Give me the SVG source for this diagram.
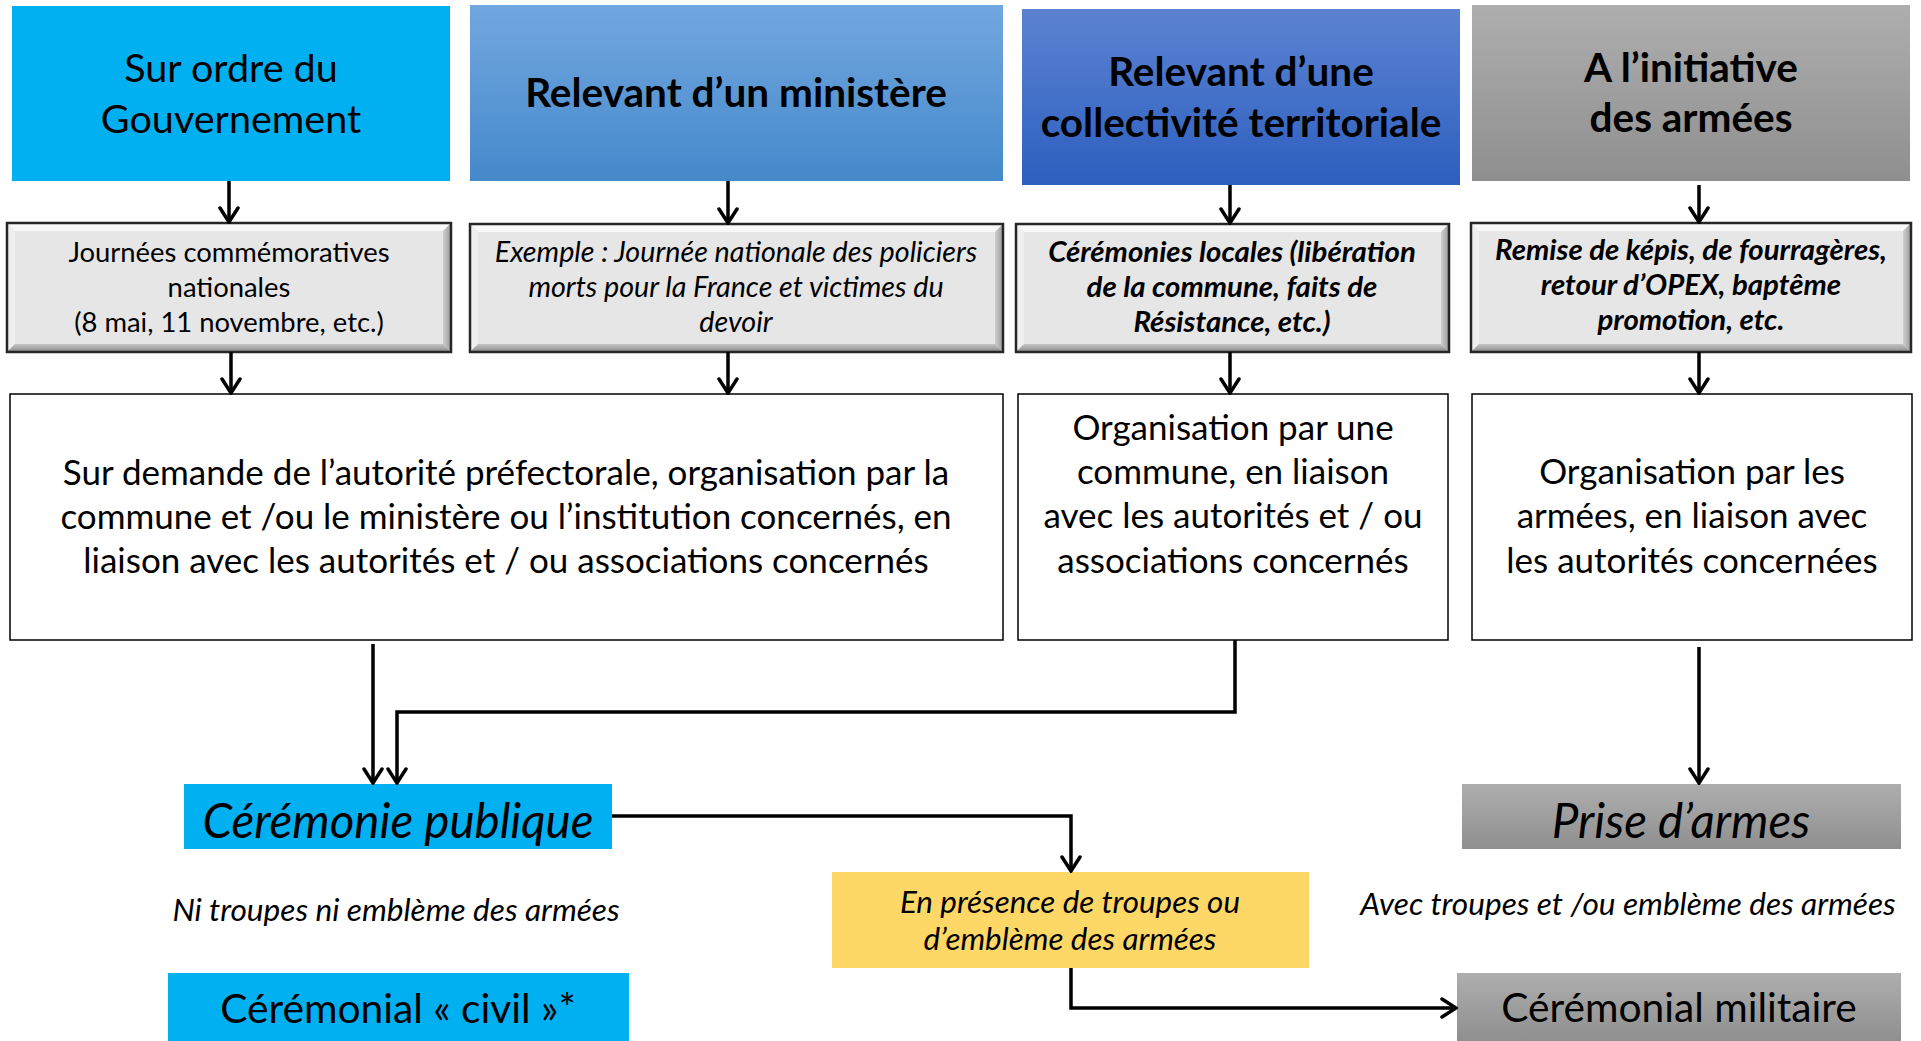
<svg xmlns="http://www.w3.org/2000/svg" width="1921" height="1041" viewBox="0 0 1921 1041">
<defs>
<linearGradient id="gBlue2" x1="0" y1="0" x2="0" y2="1"><stop offset="0" stop-color="#72A7DF"/><stop offset="1" stop-color="#4589CB"/></linearGradient>
<linearGradient id="gBlue3" x1="0" y1="0" x2="0" y2="1"><stop offset="0" stop-color="#5C83D2"/><stop offset="1" stop-color="#2D5FBF"/></linearGradient>
<linearGradient id="gGrey" x1="0" y1="0" x2="0" y2="1"><stop offset="0" stop-color="#AEAEAE"/><stop offset="1" stop-color="#8F8F8F"/></linearGradient>
<linearGradient id="gBevB" x1="0" y1="0" x2="0" y2="1"><stop offset="0" stop-color="#C4C4C4"/><stop offset="1" stop-color="#8A8A8A"/></linearGradient>
<linearGradient id="gBevR" x1="0" y1="0" x2="1" y2="0"><stop offset="0" stop-color="#CFCFCF"/><stop offset="1" stop-color="#9A9A9A"/></linearGradient>
<marker id="arr" markerUnits="userSpaceOnUse" viewBox="0 0 18 22" refX="16" refY="11" markerWidth="18" markerHeight="22" orient="auto">
<path d="M2,2 L16,11 L2,20" fill="none" stroke="#000" stroke-width="3.5" stroke-linecap="round" stroke-linejoin="miter"/>
</marker>
</defs>
<style>
text{font-family:Lato,"Open Sans","Liberation Sans",sans-serif;fill:#000;text-anchor:middle}
.h{font-size:39.5px}
.hb{font-size:40.5px;font-weight:bold}
.g{font-size:27.4px}
.gi{font-size:28.7px;font-style:italic}
.gbi{font-size:29.4px;font-style:italic;font-weight:bold}
.w{font-size:35px}
.big{font-size:47.5px;font-style:italic}
.note{font-size:31.6px;font-style:italic}
.cer{font-size:40.7px}
.yl{font-size:31.4px;font-style:italic}
.bf{fill:#E6E6E6}
.bt{fill:#F8F8F8}
.bl{fill:#EFEFEF}
.bb{fill:url(#gBevB)}
.br{fill:url(#gBevR)}
.bo{fill:none;stroke:#262626;stroke-width:2.5}
.wb{fill:#fff;stroke:#000;stroke-width:1.5}
.c{fill:none;stroke:#000;stroke-width:3.5}
</style>
<rect width="1921" height="1041" fill="#fff"/>

<g id="hdr-gouvernement">
<rect x="12" y="6" width="438" height="175" fill="#00B0F0"/>
<text class="h" x="231" y="82">Sur ordre du</text>
<text class="h" x="231" y="133">Gouvernement</text>
</g>
<g id="hdr-ministere">
<rect x="470" y="5" width="533" height="176" fill="url(#gBlue2)"/>
<text class="hb" x="736" y="107">Relevant d’un ministère</text>
</g>
<g id="hdr-collectivite">
<rect x="1022" y="9" width="438" height="176" fill="url(#gBlue3)"/>
<text class="hb" x="1241" y="86">Relevant d’une</text>
<text class="hb" x="1241" y="137">collectivité territoriale</text>
</g>
<g id="hdr-armees">
<rect x="1472" y="5" width="438" height="176" fill="url(#gGrey)"/>
<text class="hb" x="1691" y="82">A l’initiative</text>
<text class="hb" x="1691" y="132">des armées</text>
</g>

<g id="ex-journees">
<rect class="bf" x="7" y="223" width="444" height="129"/>
<polygon class="bt" points="7,223 451,223 443,231 15,231"/>
<polygon class="bl" points="7,223 15,231 15,344 7,352"/>
<polygon class="br" points="451,223 451,352 443,344 443,231"/>
<polygon class="bb" points="7,352 15,344 443,344 451,352"/>
<rect class="bo" x="7" y="223" width="444" height="129"/>
<text class="g" x="229" y="262">Journées commémoratives</text>
<text class="g" x="229" y="297">nationales</text>
<text class="g" x="229" y="332">(8 mai, 11 novembre, etc.)</text>
</g>
<g id="ex-policiers">
<rect class="bf" x="470" y="224" width="533" height="128"/>
<polygon class="bt" points="470,224 1003,224 995,232 478,232"/>
<polygon class="bl" points="470,224 478,232 478,344 470,352"/>
<polygon class="br" points="1003,224 1003,352 995,344 995,232"/>
<polygon class="bb" points="470,352 478,344 995,344 1003,352"/>
<rect class="bo" x="470" y="224" width="533" height="128"/>
<text class="gi" x="736" y="262">Exemple : Journée nationale des policiers</text>
<text class="gi" x="736" y="297">morts pour la France et victimes du</text>
<text class="gi" x="736" y="332">devoir</text>
</g>
<g id="ex-locales">
<rect class="bf" x="1016" y="224" width="433" height="128"/>
<polygon class="bt" points="1016,224 1449,224 1441,232 1024,232"/>
<polygon class="bl" points="1016,224 1024,232 1024,344 1016,352"/>
<polygon class="br" points="1449,224 1449,352 1441,344 1441,232"/>
<polygon class="bb" points="1016,352 1024,344 1441,344 1449,352"/>
<rect class="bo" x="1016" y="224" width="433" height="128"/>
<text class="gbi" x="1232" y="262">Cérémonies locales (libération</text>
<text class="gbi" x="1232" y="297">de la commune, faits de</text>
<text class="gbi" x="1232" y="332">Résistance, etc.)</text>
</g>
<g id="ex-kepis">
<rect class="bf" x="1471" y="223" width="440" height="129"/>
<polygon class="bt" points="1471,223 1911,223 1903,231 1479,231"/>
<polygon class="bl" points="1471,223 1479,231 1479,344 1471,352"/>
<polygon class="br" points="1911,223 1911,352 1903,344 1903,231"/>
<polygon class="bb" points="1471,352 1479,344 1903,344 1911,352"/>
<rect class="bo" x="1471" y="223" width="440" height="129"/>
<text class="gbi" x="1691" y="260">Remise de képis, de fourragères,</text>
<text class="gbi" x="1691" y="295">retour d’OPEX, baptême</text>
<text class="gbi" x="1691" y="330">promotion, etc.</text>
</g>

<g id="org-prefecture">
<rect class="wb" x="10" y="394" width="993" height="246"/>
<text class="w" x="506" y="485">Sur demande de l’autorité préfectorale, organisation par la</text>
<text class="w" x="506" y="529">commune et /ou le ministère ou l’institution concernés, en</text>
<text class="w" x="506" y="573">liaison avec les autorités et / ou associations concernés</text>
</g>
<g id="org-commune">
<rect class="wb" x="1018" y="394" width="430" height="246"/>
<text class="w" x="1233" y="440">Organisation par une</text>
<text class="w" x="1233" y="484">commune, en liaison</text>
<text class="w" x="1233" y="528">avec les autorités et / ou</text>
<text class="w" x="1233" y="573">associations concernés</text>
</g>
<g id="org-armees">
<rect class="wb" x="1472" y="394" width="440" height="246"/>
<text class="w" x="1692" y="484">Organisation par les</text>
<text class="w" x="1692" y="528">armées, en liaison avec</text>
<text class="w" x="1692" y="573">les autorités concernées</text>
</g>

<g id="ceremonie-publique">
<rect x="184" y="784" width="428" height="65" fill="#00B0F0"/>
<text class="big" x="398" y="838">Cérémonie publique</text>
</g>
<g id="note-civil">
<text class="note" x="396" y="921">Ni troupes ni emblème des armées</text>
</g>
<g id="ceremonial-civil">
<rect x="168" y="973" width="461" height="68" fill="#00B0F0"/>
<text class="cer" x="398" y="1023">Cérémonial « civil »*</text>
</g>
<g id="presence-troupes">
<rect x="832" y="872" width="477" height="96" fill="#FED866"/>
<text class="yl" x="1070" y="913">En présence de troupes ou</text>
<text class="yl" x="1070" y="950">d’emblème des armées</text>
</g>
<g id="prise-armes">
<rect x="1462" y="784" width="439" height="65" fill="url(#gGrey)"/>
<text class="big" x="1681" y="838">Prise d’armes</text>
</g>
<g id="note-militaire">
<text class="note" x="1628" y="915">Avec troupes et /ou emblème des armées</text>
</g>
<g id="ceremonial-militaire">
<rect x="1457" y="973" width="444" height="68" fill="url(#gGrey)"/>
<text class="cer" x="1679" y="1022">Cérémonial militaire</text>
</g>

<g id="connectors">
<line class="c" x1="229" y1="181" x2="229" y2="222" marker-end="url(#arr)"/>
<line class="c" x1="728" y1="181" x2="728" y2="223" marker-end="url(#arr)"/>
<line class="c" x1="1230" y1="185" x2="1230" y2="223" marker-end="url(#arr)"/>
<line class="c" x1="1699" y1="185" x2="1699" y2="222" marker-end="url(#arr)"/>
<line class="c" x1="231" y1="352" x2="231" y2="393" marker-end="url(#arr)"/>
<line class="c" x1="728" y1="352" x2="728" y2="393" marker-end="url(#arr)"/>
<line class="c" x1="1230" y1="352" x2="1230" y2="393" marker-end="url(#arr)"/>
<line class="c" x1="1699" y1="352" x2="1699" y2="393" marker-end="url(#arr)"/>
<line class="c" x1="373" y1="644" x2="373" y2="783" marker-end="url(#arr)"/>
<path class="c" d="M1235,640 V712 H397 V783" marker-end="url(#arr)"/>
<line class="c" x1="1699" y1="647" x2="1699" y2="783" marker-end="url(#arr)"/>
<path class="c" d="M612,816 H1071 V871" marker-end="url(#arr)"/>
<path class="c" d="M1071,968 V1008 H1456" marker-end="url(#arr)"/>
</g>
</svg>
